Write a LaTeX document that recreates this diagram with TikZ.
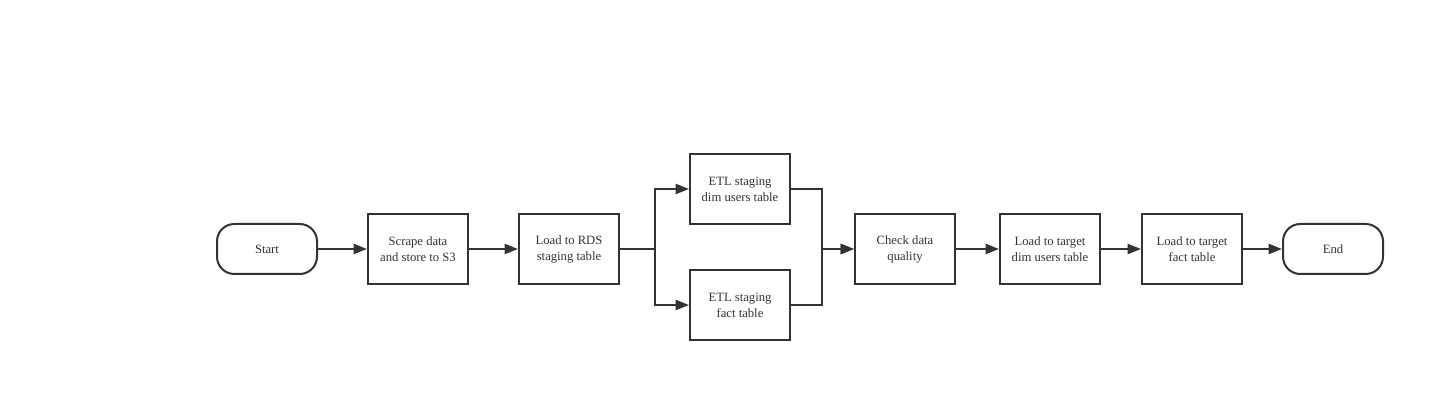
\documentclass[tikz,border=0pt]{standalone}
\usepackage{fontspec}
\setmainfont{Liberation Serif}
\usetikzlibrary{arrows.meta,positioning}
\definecolor{linegray}{HTML}{333333}
\tikzset{proc node/.style={rectangle,draw=linegray,line width=1.5pt,minimum width=75pt,minimum height=52.5pt,inner sep=0pt,align=center,font=\fontsize{9.5}{12}\selectfont,text=linegray},
         term node/.style={rectangle,rounded corners=13pt,draw=linegray,line width=1.5pt,minimum width=75pt,minimum height=37.5pt,inner sep=0pt,align=center,font=\fontsize{9.5}{12}\selectfont,text=linegray},
         flow/.style={draw=linegray,line width=1.5pt,-{Triangle[length=10pt,width=7.5pt]}},
}

\begin{document}
\begin{tikzpicture}[x=0.75pt,y=-0.75pt]
\useasboundingbox (0,0) rectangle (1445,402);
% main row
\node [term node] (start) at (267,249) {Start};
\node [proc node] (scrape) at (418,249) {Scrape data\\and store to S3};
\node [proc node] (rds) at (569,249) {Load to RDS\\staging table};
\node [proc node] (etldim) at (740,189) {ETL staging\\dim users table};
\node [proc node] (etlfact) at (740,305) {ETL staging\\fact table};
\node [proc node] (check) at (905,249) {Check data\\quality};
\node [proc node] (tgtdim) at (1050,249) {Load to target\\dim users table};
\node [proc node] (tgtfact) at (1192,249) {Load to target\\fact table};
\node [term node] (end) at (1333,249) {End};
\draw[flow] (start) -- (scrape);
\draw[flow] (scrape) -- (rds);
% split and merge
\draw[flow] (rds.east) -- (655,249) |- (etldim.west);
\draw[flow] (rds.east) -- (655,249) |- (etlfact.west);
\draw[flow] (etldim.east) -- (822,189) |- (check.west);
\draw[flow] (etlfact.east) -- (822,305) |- (check.west);
\draw[flow] (check) -- (tgtdim);
\draw[flow] (tgtdim) -- (tgtfact);
\draw[flow] (tgtfact) -- (end);
\end{tikzpicture}
\end{document}
